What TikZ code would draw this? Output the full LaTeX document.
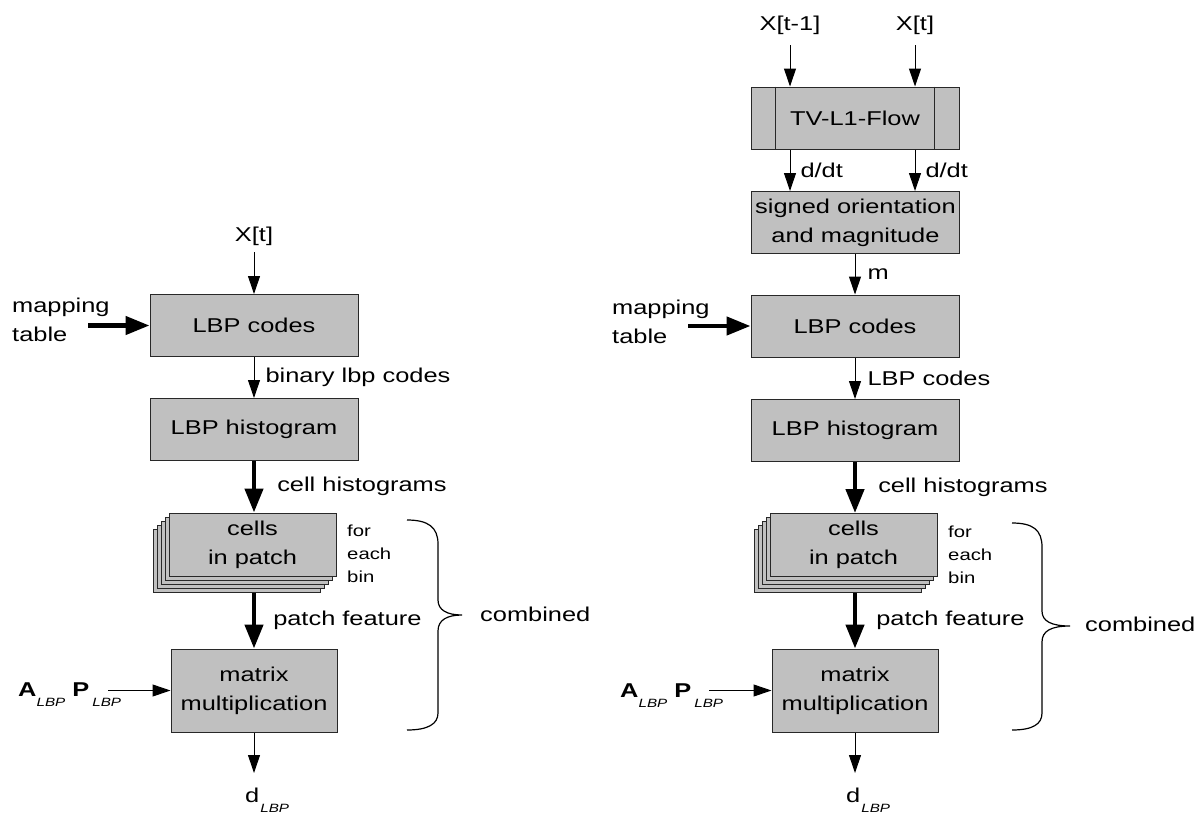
\documentclass[tikz,border=0pt]{standalone}
\usepackage{fontspec}
\setmainfont{Liberation Sans}[FakeStretch=1.27]
\usetikzlibrary{arrows.meta,calc}
\definecolor{boxfill}{RGB}{192,192,192}
\definecolor{boxline}{RGB}{40,40,40}
\newcommand{\lbpsub}{\raisebox{-10pt}{\fontsize{12}{12}\selectfont\itshape LBP}}

\begin{document}
\begin{tikzpicture}[x=1pt,y=-1pt,
  txt/.style={inner sep=0pt, font=\fontsize{20}{29}\selectfont},
  proc/.style={draw=boxline, line width=1pt, fill=boxfill, inner sep=0pt,
               font=\fontsize{20}{29}\selectfont, align=center},
  widebox/.style={proc, minimum width=208pt, minimum height=62pt},
  cellbox/.style={proc, minimum width=167pt, minimum height=63pt},
  mmbox/.style={proc, minimum width=166pt, minimum height=83pt},
  flow/.style={line width=1pt, -{Triangle[length=18pt,width=12pt]}},
  bigflow/.style={line width=4.5pt, -{Triangle[length=24pt,width=18pt]}},
  lbl/.style={txt, anchor=west},
  small/.style={inner sep=0pt, font=\fontsize{16}{23}\selectfont, align=left, anchor=west},
  brace/.style={line width=1.2pt}
]
\useasboundingbox (0,0) rectangle (1200,812);

% ---------------- left column: LBP on the frame ----------------
\node[txt] (xt1) at (254,236) {X[t]};
\coordinate (xt1-out) at (254,252);
\node[widebox] (lbp1) at (254,325.5) {LBP codes};
\node[txt, align=left, anchor=west] (map1) at (12,320) {mapping\\table};
\coordinate (map1-out) at (88,325.5);
\node[widebox] (hist1) at (254,429.5) {LBP histogram};
\foreach \k in {4,3,2,1}
  \node[cellbox] (cells1-\k) at ({252.5-4*\k},{544.5+4*\k}) {};
\node[cellbox] (cells1) at (252.5,544.5) {cells\\in patch};
\node[small] (bin1) at (347,554) {for\\each\\bin};
\node[mmbox] (mm1) at (254,690.5) {matrix\\multiplication};
\node[txt, anchor=base west] (ap1) at (18,696)
  {\textbf{A}\lbpsub\hspace{7pt}\textbf{P}\hspace{3pt}\lbpsub};
\coordinate (ap1-out) at (108,690.5);
\node[txt, anchor=base west] (d1) at (245,802) {d\hspace{1pt}\lbpsub};
\coordinate (d1-in) at (254,773);

\draw[flow] (xt1-out) -- (lbp1.north);
\draw[bigflow] (map1-out) -- (lbp1.west);
\draw[flow] (lbp1.south) -- (hist1.north)
  node[lbl, midway, xshift=11pt] {binary lbp codes};
\draw[bigflow] (hist1.south) -- (hist1.south |- cells1.north)
  node[lbl, midway, xshift=21pt] {cell histograms};
\draw[bigflow] (hist1.south |- cells1-4.south) -- (mm1.north)
  node[lbl, midway, xshift=17pt] {patch feature};
\draw[flow] (ap1-out) -- (mm1.west);
\draw[flow] (mm1.south) -- (d1-in);

\draw[brace] (407,520) .. controls (428,520) and (438,527) .. (438,544)
  -- (438,600) .. controls (438,610) and (447,615) .. (462,615)
  .. controls (447,615) and (438,620) .. (438,631)
  -- (438,713) .. controls (438,724) and (428,730) .. (407,730);
\node[txt, anchor=west] (comb1) at (480,614) {combined};

% ---------------- right column: LBP on the optical flow ----------------
\node[txt] (xtm) at (790,25) {X[t-1]};
\node[txt] (xtr) at (915,25) {X[t]};
\coordinate (xtm-out) at (790,45);
\coordinate (xtr-out) at (915,45);
\node[widebox] (tv) at (855,118) {TV-L1-Flow};
\draw[boxline, line width=1pt] ([xshift=25pt]tv.north west) -- ([xshift=25pt]tv.south west);
\draw[boxline, line width=1pt] ([xshift=-25pt]tv.north east) -- ([xshift=-25pt]tv.south east);
\node[widebox] (sig) at (855.5,222.5) {signed orientation\\and magnitude};
\node[widebox] (lbp2) at (855,326) {LBP codes};
\node[txt, align=left, anchor=west] (map2) at (612,322) {mapping\\table};
\coordinate (map2-out) at (688,326);
\node[widebox] (hist2) at (855,430.5) {LBP histogram};
\foreach \k in {4,3,2,1}
  \node[cellbox] (cells2-\k) at ({853.5-4*\k},{545+4*\k}) {};
\node[cellbox] (cells2) at (853.5,545) {cells\\in patch};
\node[small] (bin2) at (948,555) {for\\each\\bin};
\node[mmbox] (mm2) at (855,690.5) {matrix\\multiplication};
\node[txt, anchor=base west] (ap2) at (620,697)
  {\textbf{A}\lbpsub\hspace{7pt}\textbf{P}\hspace{3pt}\lbpsub};
\coordinate (ap2-out) at (709,690.5);
\node[txt, anchor=base west] (d2) at (846,802) {d\hspace{1pt}\lbpsub};
\coordinate (d2-in) at (855,773);

\draw[flow] (xtm-out) -- (xtm-out |- tv.north);
\draw[flow] (xtr-out) -- (xtr-out |- tv.north);
\draw[flow] (tv.south -| xtm-out) -- (sig.north -| xtm-out)
  node[lbl, midway, xshift=10pt] {d/dt};
\draw[flow] (tv.south -| xtr-out) -- (sig.north -| xtr-out)
  node[lbl, midway, xshift=10pt] {d/dt};
\draw[flow] (lbp2.north |- sig.south) -- (lbp2.north)
  node[lbl, midway, xshift=12pt] {m};
\draw[bigflow] (map2-out) -- (lbp2.west);
\draw[flow] (lbp2.south) -- (hist2.north)
  node[lbl, midway, xshift=12pt] {LBP codes};
\draw[bigflow] (hist2.south) -- (hist2.south |- cells2.north)
  node[lbl, midway, xshift=21pt] {cell histograms};
\draw[bigflow] (hist2.south |- cells2-4.south) -- (mm2.north)
  node[lbl, midway, xshift=19pt] {patch feature};
\draw[flow] (ap2-out) -- (mm2.west);
\draw[flow] (mm2.south) -- (d2-in);

\draw[brace] (1012,523) .. controls (1033,523) and (1042,530) .. (1042,547)
  -- (1042,611) .. controls (1042,621) and (1051,626) .. (1070,626)
  .. controls (1051,626) and (1042,631) .. (1042,642)
  -- (1042,713) .. controls (1042,724) and (1033,730) .. (1012,730);
\node[txt, anchor=west] (comb2) at (1085,624) {combined};
\end{tikzpicture}
\end{document}
